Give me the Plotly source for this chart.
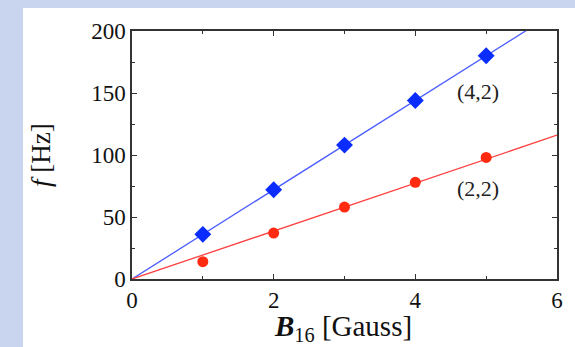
import plotly.graph_objects as go

# Data
b_field = [1, 2, 3, 4, 5]
freq_42 = [36, 72, 108, 144, 180]
freq_22 = [14, 37, 58, 78, 98]
fit_x = [0, 6]
fit_42 = [0, 216]
fit_22 = [0, 116]
x_ticks = [0, 2, 4, 6]
y_ticks = [0, 50, 100, 150, 200]

W, H = 575, 347
L, R, T, B = 132, 18, 31, 68
pw, ph = W - L - R, H - T - B


def px(xp):
    return (xp - L) / pw


def py(yp):
    return (H - B - yp) / ph


FONT = "Liberation Serif"

fig = go.Figure()
fig.add_trace(go.Scatter(x=fit_x, y=fit_42, mode="lines",
                         line=dict(color="#4a5cff", width=1.3), hoverinfo="skip"))
fig.add_trace(go.Scatter(x=fit_x, y=fit_22, mode="lines",
                         line=dict(color="#ff4040", width=1.3), hoverinfo="skip"))
fig.add_trace(go.Scatter(x=b_field, y=freq_42, mode="markers",
                         marker=dict(symbol="diamond", size=13, color="#0a2cff")))
fig.add_trace(go.Scatter(x=b_field, y=freq_22, mode="markers",
                         marker=dict(symbol="circle", size=11, color="#ff2a10")))

fig.add_annotation(x=4.88, y=151, text="(4,2)", showarrow=False,
                   xanchor="center", yanchor="middle",
                   font=dict(family=FONT, size=22, color="#222"))
fig.add_annotation(x=4.88, y=73, text="(2,2)", showarrow=False,
                   xanchor="center", yanchor="middle",
                   font=dict(family=FONT, size=22, color="#222"))

fig.add_annotation(xref="paper", yref="paper", x=px(41), y=py(155),
                   xanchor="center", yanchor="middle",
                   text="<i>f</i> [Hz]", textangle=-90, showarrow=False,
                   font=dict(family=FONT, size=27, color="#111"))
fig.add_annotation(xref="paper", yref="paper", x=px(343), y=py(328),
                   xanchor="center", yanchor="middle",
                   text="<b><i>B</i></b><sub>16</sub> [Gauss]", showarrow=False,
                   font=dict(family=FONT, size=29, color="#111"))

# slide background: white panel over textured blue
fig.add_shape(type="rect", xref="paper", yref="paper", layer="below",
              x0=px(23), x1=px(W + 5), y0=py(H + 5), y1=py(8),
              fillcolor="white", line=dict(width=0))

axis_common = dict(showgrid=False, zeroline=False, showline=True, mirror="allticks",
                   linecolor="#333", linewidth=1.5, ticks="inside", ticklen=5,
                   tickcolor="#333", tickwidth=1,
                   tickfont=dict(family=FONT, size=23, color="#111"))

fig.update_xaxes(range=[0, 6], tickvals=x_ticks,
                 minor=dict(dtick=1, ticks="inside", ticklen=3, tickcolor="#333"),
                 **axis_common)
fig.update_yaxes(range=[0, 200], tickvals=y_ticks,
                 minor=dict(dtick=25, ticks="inside", ticklen=3, tickcolor="#333"),
                 **axis_common)

fig.update_layout(width=W, height=H, margin=dict(l=L, r=R, t=T, b=B),
                  paper_bgcolor="#c9d5ef", plot_bgcolor="white", showlegend=False)

fig.write_html("out.html")
